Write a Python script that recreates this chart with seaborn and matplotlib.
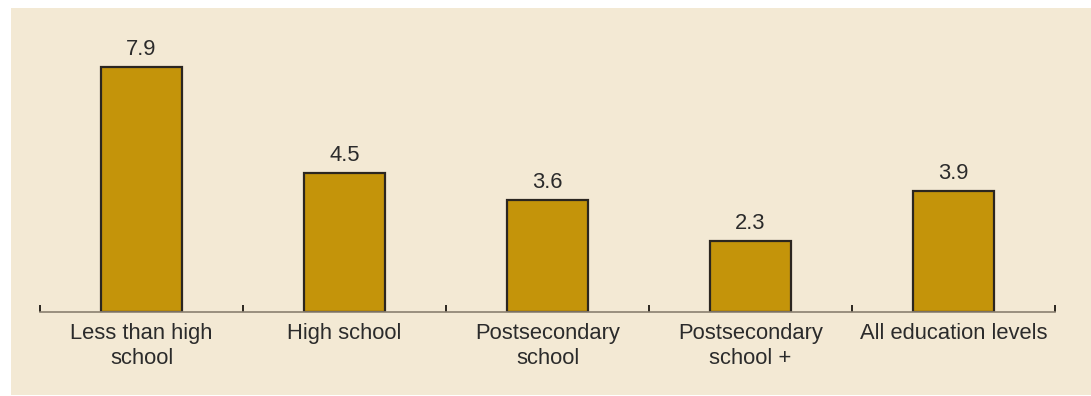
import matplotlib
matplotlib.use("Agg")
import matplotlib.pyplot as plt
import matplotlib.patches as mpatches
import seaborn as sns
import pandas as pd

categories = ["Less than high\nschool", "High school", "Postsecondary\nschool",
              "Postsecondary\nschool +", "All education levels"]
values = [7.9, 4.5, 3.6, 2.3, 3.9]

BG = "#F3E9D4"
BAR = "#C4940A"
EDGE = "#2B2620"
AXIS = "#8A8070"
TEXT = "#2B2B2B"

sns.set_theme(style="white")
plt.rcParams["font.family"] = ["Liberation Sans", "DejaVu Sans"]

W, H = 1091, 396
fig = plt.figure(figsize=(W / 100, H / 100), dpi=100, facecolor="white")

# beige backdrop panel
fig.patches.append(mpatches.Rectangle((11 / W, 1 - 395 / H), 1 - 11 / W, (395 - 8) / H,
                                      transform=fig.transFigure, facecolor=BG,
                                      edgecolor="none", zorder=-10))

base_y = 312
top_y = 20
ax = fig.add_axes([40 / W, 1 - base_y / H, (1055 - 40) / W, (base_y - top_y) / H])
ax.set_zorder(5)
ax.patch.set_alpha(0)

df = pd.DataFrame({"category": categories, "value": values})
sns.barplot(data=df, x="category", y="value", ax=ax, color=BAR, width=0.4,
            edgecolor=EDGE, linewidth=1.6, saturation=1)

px_per_unit = 31.0
ax.set_ylim(0, (base_y - top_y) / px_per_unit)
ax.set_xlim(-0.5, len(categories) - 0.5)

for i, v in enumerate(values):
    ax.annotate(f"{v:.1f}", (i, v), xytext=(0, 5), textcoords="offset points",
                ha="center", va="bottom", fontsize=15.8, color=TEXT)

for s in ["top", "right", "left"]:
    ax.spines[s].set_visible(False)
ax.spines["bottom"].set_color(AXIS)
ax.spines["bottom"].set_linewidth(1.2)
ax.set_yticks([])
ax.set_xlabel("")
ax.set_ylabel("")

ax.set_xticks(range(len(categories)))
ax.set_xticklabels(categories, fontsize=15.8, color=TEXT, linespacing=1.22)
ax.tick_params(axis="x", which="major", length=0, pad=8)
ax.set_xticks([i - 0.5 for i in range(len(categories) + 1)], minor=True)
ax.tick_params(axis="x", which="minor", direction="in", length=5, width=1.4,
               color=EDGE, bottom=True)

fig.savefig("out.png", dpi=100, facecolor="white")
